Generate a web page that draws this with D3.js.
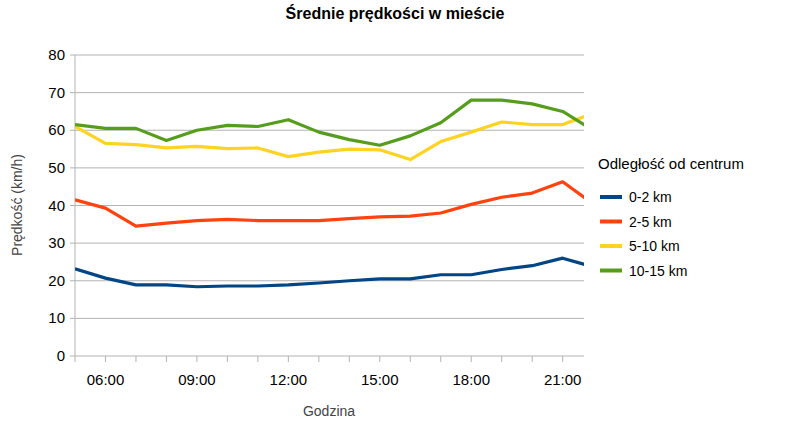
<!DOCTYPE html>
<html><head><meta charset="utf-8">
<script src="https://cdn.jsdelivr.net/npm/d3@7"></script>
<style>body{margin:0;background:#fff}text{font-family:"Liberation Sans",Arial,sans-serif}</style>
</head><body><svg width="788" height="427"></svg>
<script>
const hours = [5,6,7,8,9,10,11,12,13,14,15,16,17,18,19,20,21,22];
const seriesNames = ['0-2 km','2-5 km','5-10 km','10-15 km'];
const colors = ['#004586','#ff420e','#ffd320','#579d1c'];
const v02 = [23.2,20.7,18.9,18.9,18.4,18.6,18.6,18.9,19.4,20,20.5,20.5,21.6,21.6,23,24,26,23.7];
const v25 = [41.5,39.3,34.5,35.3,36,36.3,36,36,36,36.5,37,37.2,38,40.3,42.2,43.3,46.3,40.4];
const v510 = [61,56.5,56.2,55.3,55.7,55.1,55.3,53,54.2,55,54.8,52.2,57,59.5,62.2,61.5,61.5,64.5];
const v1015 = [61.5,60.5,60.5,57.3,60,61.3,61,62.8,59.5,57.5,56,58.5,62,68,68,67,65,60];
const yTicks = [0,10,20,30,40,50,60,70,80];
const xLabels = [6,9,12,15,18,21];
const series = [v02,v25,v510,v1015];

const svg = d3.select('svg');
const L=75,R=584,T=55,B=356;
const x = d3.scaleLinear().domain([5,21.7]).range([L,R]);
const y = d3.scaleLinear().domain([0,80]).range([B,T]);

svg.append('defs').append('clipPath').attr('id','c')
  .append('rect').attr('x',L).attr('y',T-5).attr('width',R-L).attr('height',B-T+10);

// grid
svg.selectAll('.g').data(yTicks).enter().append('line')
  .attr('x1',L-5).attr('x2',R).attr('y1',d=>y(d)).attr('y2',d=>y(d))
  .attr('stroke','#b3b3b3');
svg.append('line').attr('x1',L).attr('x2',L).attr('y1',T).attr('y2',B).attr('stroke','#b3b3b3');
svg.selectAll('.xt').data(hours.filter(h=>h<=21)).enter().append('line')
  .attr('x1',d=>x(d)).attr('x2',d=>x(d)).attr('y1',B).attr('y2',B+6).attr('stroke','#b3b3b3');

svg.selectAll('.yl').data(yTicks).enter().append('text')
  .attr('x',L-10).attr('y',d=>y(d)+5).attr('text-anchor','end')
  .attr('font-size',15).text(d=>d);
svg.selectAll('.xl').data(xLabels).enter().append('text')
  .attr('x',d=>x(d)).attr('y',B+29).attr('text-anchor','middle')
  .attr('font-size',15).text(d=>String(d).padStart(2,'0')+':00');

const line = d3.line().x((d,i)=>x(hours[i])).y(d=>y(d));
svg.append('g').attr('clip-path','url(#c)').selectAll('path').data(series).enter().append('path')
  .attr('d',line).attr('fill','none').attr('stroke',(d,i)=>colors[i]).attr('stroke-width',3.2)
  .attr('stroke-linejoin','round');

svg.append('text').attr('x',395).attr('y',19).attr('text-anchor','middle')
  .attr('font-size',16).attr('font-weight','bold').text('Średnie prędkości w mieście');
svg.append('text').attr('x',329).attr('y',416).attr('text-anchor','middle')
  .attr('font-size',14).attr('fill','#444').text('Godzina');
svg.append('text').attr('transform','translate(22,205) rotate(-90)').attr('text-anchor','middle')
  .attr('font-size',14).attr('fill','#444').text('Prędkość (km/h)');

const lg = svg.append('g');
lg.append('text').attr('x',598).attr('y',169).attr('font-size',15).text('Odległość od centrum');
const it = lg.selectAll('g').data(seriesNames).enter().append('g')
  .attr('transform',(d,i)=>`translate(600,${197+i*24.5})`);
it.append('line').attr('x1',0).attr('x2',22).attr('stroke',(d,i)=>colors[i]).attr('stroke-width',4);
it.append('text').attr('x',29).attr('y',5).attr('font-size',14).text(d=>d);
</script></body></html>
